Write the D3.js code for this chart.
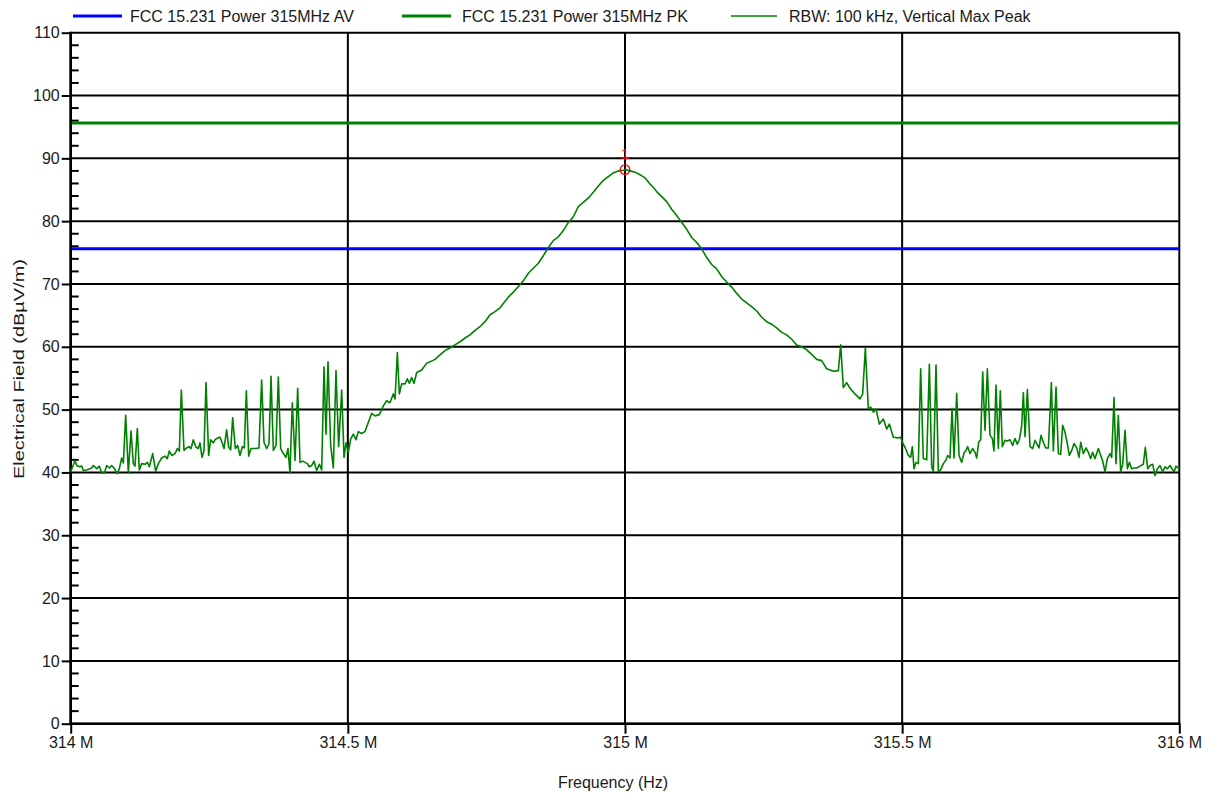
<!DOCTYPE html>
<html>
<head>
<meta charset="utf-8">
<script src="https://cdn.jsdelivr.net/npm/d3@7/dist/d3.min.js"></script>
<style>
  html, body { margin: 0; padding: 0; background: #fff; }
  svg text { font-family: "Liberation Sans", Arial, sans-serif; fill: #1a1a1a; }
</style>
</head>
<body>
<svg id="chart" width="1212" height="793"></svg>
<script>
// Limit lines (dBµV/m)
const limitAV = 75.62;
const limitPK = 95.62;

// Legend entries
const legendLabels = [
  "FCC 15.231 Power 315MHz AV",
  "FCC 15.231 Power 315MHz PK",
  "RBW: 100 kHz, Vertical Max Peak"
];

// Axis ticks
const freqTicksMHz = [314, 314.5, 315, 315.5, 316];
const freqTickLabels = ["314 M", "314.5 M", "315 M", "315.5 M", "316 M"];
const levelTicks = [0, 10, 20, 30, 40, 50, 60, 70, 80, 90, 100, 110];

// Marker 1
const markerMHz = 315.0;
const markerLevel = 88.2;

// Max-peak trace: [frequency MHz, level dBµV/m]
const trace = [
  [314.0000, 40.1], [314.0078, 41.9], [314.0108, 41.1], [314.0156, 40.9], [314.0198, 41.0],
  [314.0228, 40.3], [314.0288, 40.4], [314.0378, 40.7], [314.0408, 41.1], [314.0469, 40.6],
  [314.0517, 41.0], [314.0559, 39.9], [314.0607, 39.9], [314.0649, 41.1], [314.0697, 40.7],
  [314.0739, 41.1], [314.0781, 40.7], [314.0841, 39.8], [314.0877, 40.6], [314.0920, 42.3],
  [314.0950, 41.5], [314.0992, 49.1], [314.1040, 39.9], [314.1088, 46.6], [314.1130, 41.4],
  [314.1160, 41.0], [314.1202, 47.0], [314.1238, 40.4], [314.1280, 41.4], [314.1340, 41.3],
  [314.1382, 41.6], [314.1419, 40.9], [314.1479, 43.0], [314.1533, 40.2], [314.1581, 41.4],
  [314.1641, 42.3], [314.1701, 42.6], [314.1743, 42.2], [314.1779, 43.4], [314.1822, 42.7],
  [314.1882, 43.0], [314.1924, 43.8], [314.1960, 43.4], [314.1996, 53.1], [314.2044, 43.5],
  [314.2092, 43.9], [314.2134, 44.1], [314.2170, 43.8], [314.2212, 45.2], [314.2261, 44.0],
  [314.2303, 43.8], [314.2333, 44.7], [314.2369, 42.4], [314.2405, 43.5], [314.2441, 54.3],
  [314.2489, 42.7], [314.2525, 45.2], [314.2573, 44.7], [314.2603, 45.2], [314.2651, 45.5],
  [314.2694, 45.6], [314.2730, 44.8], [314.2766, 43.8], [314.2814, 46.8], [314.2850, 44.0],
  [314.2886, 43.6], [314.2922, 48.7], [314.2970, 43.8], [314.3012, 44.3], [314.3054, 42.7],
  [314.3096, 44.1], [314.3132, 43.9], [314.3169, 53.0], [314.3211, 42.6], [314.3253, 43.8],
  [314.3325, 43.8], [314.3397, 43.9], [314.3445, 54.7], [314.3487, 44.8], [314.3535, 43.8],
  [314.3578, 44.6], [314.3614, 55.3], [314.3656, 43.5], [314.3704, 44.3], [314.3746, 55.2],
  [314.3788, 43.8], [314.3836, 43.0], [314.3884, 42.4], [314.3920, 43.8], [314.3956, 39.9],
  [314.3998, 51.1], [314.4047, 41.9], [314.4095, 53.4], [314.4137, 41.6], [314.4185, 41.8],
  [314.4227, 41.6], [314.4269, 41.4], [314.4305, 40.9], [314.4347, 41.1], [314.4389, 41.8],
  [314.4437, 40.3], [314.4486, 41.3], [314.4528, 40.4], [314.4570, 56.8], [314.4606, 46.1],
  [314.4642, 57.6], [314.4690, 44.3], [314.4738, 40.7], [314.4786, 56.2], [314.4834, 44.1],
  [314.4889, 53.1], [314.4931, 42.4], [314.4967, 44.7], [314.5009, 43.2], [314.5051, 45.3],
  [314.5099, 46.1], [314.5147, 45.2], [314.5189, 46.5], [314.5249, 46.2], [314.5309, 46.5],
  [314.5370, 48.0], [314.5430, 49.4], [314.5490, 49.0], [314.5568, 49.2], [314.5640, 50.6],
  [314.5700, 51.4], [314.5760, 51.1], [314.5821, 52.5], [314.5851, 51.7], [314.5893, 59.1],
  [314.5929, 52.5], [314.5971, 54.1], [314.6031, 54.1], [314.6073, 54.9], [314.6109, 54.2],
  [314.6151, 55.1], [314.6193, 54.2], [314.6242, 55.9], [314.6332, 56.3], [314.6422, 57.4],
  [314.6482, 57.6], [314.6572, 58.0], [314.6663, 58.7], [314.6753, 59.4], [314.6843, 59.8],
  [314.6933, 60.3], [314.7023, 60.8], [314.7114, 61.4], [314.7204, 61.9], [314.7294, 62.6],
  [314.7384, 63.2], [314.7474, 64.0], [314.7565, 65.1], [314.7655, 65.6], [314.7745, 66.2],
  [314.7805, 66.9], [314.7895, 67.9], [314.7986, 68.7], [314.8076, 69.6], [314.8166, 70.5],
  [314.8256, 71.7], [314.8346, 72.5], [314.8437, 73.3], [314.8527, 74.5], [314.8617, 75.8],
  [314.8707, 76.9], [314.8797, 77.5], [314.8888, 78.5], [314.8978, 79.8], [314.9068, 80.7],
  [314.9158, 82.3], [314.9248, 83.0], [314.9339, 83.7], [314.9429, 84.6], [314.9519, 85.6],
  [314.9609, 86.5], [314.9699, 87.1], [314.9790, 87.7], [314.9880, 88.0], [314.9970, 88.1],
  [315.0000, 88.2], [315.0090, 88.0], [315.0180, 87.8], [315.0271, 87.4], [315.0361, 86.9],
  [315.0451, 85.9], [315.0511, 85.4], [315.0571, 84.7], [315.0662, 83.9], [315.0752, 83.1],
  [315.0842, 81.9], [315.0932, 80.9], [315.1023, 79.8], [315.1113, 78.7], [315.1203, 77.4],
  [315.1293, 76.6], [315.1383, 75.6], [315.1474, 74.2], [315.1564, 73.1], [315.1654, 72.4],
  [315.1744, 71.2], [315.1834, 70.3], [315.1925, 69.5], [315.2015, 68.5], [315.2105, 67.6],
  [315.2195, 67.0], [315.2285, 66.4], [315.2376, 65.7], [315.2466, 64.7], [315.2556, 64.0],
  [315.2646, 63.6], [315.2736, 63.0], [315.2827, 62.3], [315.2917, 61.9], [315.3007, 61.2],
  [315.3097, 60.3], [315.3187, 60.0], [315.3278, 59.5], [315.3368, 58.8], [315.3458, 58.0],
  [315.3548, 57.8], [315.3638, 56.5], [315.3759, 56.1], [315.3849, 56.2], [315.3891, 60.3],
  [315.3939, 53.5], [315.3999, 54.3], [315.4059, 53.4], [315.4149, 52.5], [315.4240, 51.7],
  [315.4288, 52.5], [315.4336, 59.8], [315.4390, 50.1], [315.4432, 50.4], [315.4480, 49.6],
  [315.4528, 50.1], [315.4589, 47.7], [315.4661, 48.5], [315.4721, 46.9], [315.4769, 47.7],
  [315.4841, 45.6], [315.4931, 45.5], [315.4974, 45.6], [315.5009, 44.7], [315.5052, 44.0],
  [315.5112, 42.7], [315.5154, 42.4], [315.5184, 44.1], [315.5214, 40.6], [315.5250, 41.6],
  [315.5292, 41.4], [315.5334, 56.5], [315.5382, 42.2], [315.5443, 42.0], [315.5491, 57.2],
  [315.5533, 40.9], [315.5563, 40.1], [315.5611, 57.1], [315.5653, 40.1], [315.5695, 40.4],
  [315.5743, 41.4], [315.5785, 41.9], [315.5821, 42.7], [315.5863, 42.3], [315.5900, 50.2],
  [315.5936, 42.3], [315.5984, 52.6], [315.6026, 42.7], [315.6074, 41.6], [315.6116, 43.1],
  [315.6152, 43.5], [315.6182, 44.1], [315.6224, 43.0], [315.6272, 43.8], [315.6314, 43.2],
  [315.6345, 42.3], [315.6381, 44.8], [315.6417, 45.2], [315.6453, 56.0], [315.6495, 46.7],
  [315.6537, 56.5], [315.6585, 45.9], [315.6627, 45.4], [315.6657, 43.4], [315.6693, 53.9],
  [315.6735, 43.8], [315.6771, 53.0], [315.6807, 44.1], [315.6856, 45.1], [315.6898, 45.0],
  [315.6946, 45.2], [315.6994, 44.3], [315.7036, 45.4], [315.7078, 44.5], [315.7114, 45.2],
  [315.7157, 47.5], [315.7187, 52.7], [315.7217, 45.7], [315.7259, 53.2], [315.7307, 44.1],
  [315.7355, 43.8], [315.7397, 45.1], [315.7427, 44.6], [315.7469, 43.9], [315.7505, 45.9],
  [315.7547, 44.8], [315.7589, 43.9], [315.7638, 43.9], [315.7692, 54.3], [315.7728, 43.4],
  [315.7776, 53.6], [315.7818, 43.0], [315.7860, 42.9], [315.7896, 47.5], [315.7938, 46.4],
  [315.7980, 44.6], [315.8016, 42.7], [315.8059, 43.5], [315.8101, 44.6], [315.8149, 43.9],
  [315.8191, 42.4], [315.8221, 44.8], [315.8269, 43.0], [315.8317, 43.9], [315.8359, 43.2],
  [315.8401, 42.2], [315.8437, 43.2], [315.8479, 42.2], [315.8540, 43.8], [315.8582, 42.7],
  [315.8618, 41.8], [315.8660, 40.1], [315.8702, 42.2], [315.8750, 43.0], [315.8780, 42.4],
  [315.8822, 51.9], [315.8858, 41.4], [315.8900, 49.1], [315.8942, 40.1], [315.8978, 41.3],
  [315.9021, 46.7], [315.9063, 40.6], [315.9099, 41.6], [315.9141, 40.6], [315.9183, 40.7],
  [315.9231, 40.7], [315.9291, 41.0], [315.9351, 41.3], [315.9387, 44.0], [315.9430, 40.6],
  [315.9472, 41.1], [315.9520, 41.3], [315.9562, 39.5], [315.9604, 40.6], [315.9652, 41.1],
  [315.9700, 40.1], [315.9742, 40.9], [315.9784, 40.6], [315.9832, 41.1], [315.9868, 40.6],
  [315.9905, 40.1], [315.9941, 41.0], [315.9983, 40.7], [316.0000, 40.9]
];

const colorAV = "#0000ff";
const colorPK = "#008000";
const colorTrace = "#008000";

const svg = d3.select("#chart");

// Plot frame
const plotL = 70.7, plotR = 1179.3, plotT = 32.7, plotB = 723.7;

const x = d3.scaleLinear().domain([314e6, 316e6]).range([plotL, plotR]);
const y = d3.scaleLinear().domain([0, 110]).range([plotB, plotT]);

// Horizontal grid at every 10 dBµV/m
svg.append("g")
  .selectAll("line")
  .data(levelTicks)
  .join("line")
  .attr("x1", plotL).attr("x2", plotR)
  .attr("y1", d => y(d)).attr("y2", d => y(d))
  .attr("stroke", "#000").attr("stroke-width", 2);

// Vertical grid at every 0.5 MHz
svg.append("g")
  .selectAll("line")
  .data(freqTicksMHz)
  .join("line")
  .attr("x1", d => x(d * 1e6)).attr("x2", d => x(d * 1e6))
  .attr("y1", plotT).attr("y2", plotB)
  .attr("stroke", "#000").attr("stroke-width", 2);

// Left axis: labels, outer major ticks, inner minor ticks
const yAxis = d3.axisLeft(y)
  .tickValues(levelTicks)
  .tickFormat(d3.format("d"))
  .tickSize(9)
  .tickPadding(2);
const gy = svg.append("g").attr("transform", `translate(${plotL},0)`).call(yAxis);
gy.select(".domain").remove();
gy.selectAll(".tick line").attr("stroke", "#000").attr("stroke-width", 2);
gy.selectAll(".tick text")
  .style("font-size", "16px")
  .style("font-family", "'Liberation Sans', Arial, sans-serif")
  .attr("fill", "#1a1a1a");

const minorLevels = d3.range(0, 111, 2).filter(v => v % 10 !== 0);
svg.append("g")
  .selectAll("line")
  .data(minorLevels)
  .join("line")
  .attr("x1", plotL).attr("x2", plotL + 8)
  .attr("y1", d => y(d)).attr("y2", d => y(d))
  .attr("stroke", "#000").attr("stroke-width", 2);

svg.append("line")
  .attr("x1", plotL).attr("x2", plotL)
  .attr("y1", plotT - 1).attr("y2", plotB + 1)
  .attr("stroke", "#000").attr("stroke-width", 2.6);

// Bottom axis
const xAxis = d3.axisBottom(x)
  .tickValues(freqTicksMHz.map(d => d * 1e6))
  .tickFormat((d, i) => freqTickLabels[i])
  .tickSize(10)
  .tickPadding(3);
const gx = svg.append("g").attr("transform", `translate(0,${plotB})`).call(xAxis);
gx.select(".domain").remove();
gx.selectAll(".tick line").attr("stroke", "#000").attr("stroke-width", 2);
gx.selectAll(".tick text")
  .style("font-size", "16px")
  .style("font-family", "'Liberation Sans', Arial, sans-serif")
  .attr("fill", "#1a1a1a");

svg.append("line")
  .attr("x1", plotL - 1).attr("x2", plotR + 1)
  .attr("y1", plotB).attr("y2", plotB)
  .attr("stroke", "#000").attr("stroke-width", 2.6);

// Limit lines
svg.append("line")
  .attr("x1", x(314e6) + 1).attr("x2", x(316e6))
  .attr("y1", y(limitPK)).attr("y2", y(limitPK))
  .attr("stroke", colorPK).attr("stroke-width", 3);
svg.append("line")
  .attr("x1", x(314e6) + 1).attr("x2", x(316e6))
  .attr("y1", y(limitAV)).attr("y2", y(limitAV))
  .attr("stroke", colorAV).attr("stroke-width", 3);

// Trace
const line = d3.line()
  .x(d => x(d[0] * 1e6))
  .y(d => y(d[1]));
svg.append("path")
  .datum(trace)
  .attr("d", line)
  .attr("fill", "none")
  .attr("stroke", colorTrace)
  .attr("stroke-width", 1.6)
  .attr("stroke-linejoin", "round");

// Marker 1
svg.append("circle")
  .attr("cx", x(markerMHz * 1e6)).attr("cy", y(markerLevel))
  .attr("r", 4.8)
  .attr("fill", "none").attr("stroke", "#ff0000").attr("stroke-width", 1.3);
svg.append("text")
  .attr("x", x(markerMHz * 1e6)).attr("y", y(markerLevel) - 10.5)
  .attr("text-anchor", "middle")
  .style("font-size", "15px")
  .style("fill", "#ff0000")
  .text("1");

// Axis titles
svg.append("text")
  .attr("x", 613).attr("y", 788)
  .attr("text-anchor", "middle")
  .style("font-size", "16px")
  .text("Frequency (Hz)");
svg.append("text")
  .attr("transform", "translate(24,369) rotate(-90)")
  .attr("text-anchor", "middle")
  .attr("textLength", 220)
  .attr("lengthAdjust", "spacingAndGlyphs")
  .style("font-size", "15px")
  .text("Electrical Field (dBµV/m)");

// Legend
const legendItems = [
  { label: legendLabels[0], color: colorAV, width: 3, x0: 73, x1: 122, tx: 130 },
  { label: legendLabels[1], color: colorPK, width: 3, x0: 402, x1: 451, tx: 462 },
  { label: legendLabels[2], color: colorTrace, width: 1.6, x0: 731, x1: 777, tx: 789 }
];
const lg = svg.append("g").selectAll("g").data(legendItems).join("g");
lg.append("line")
  .attr("x1", d => d.x0).attr("x2", d => d.x1)
  .attr("y1", 16).attr("y2", 16)
  .attr("stroke", d => d.color).attr("stroke-width", d => d.width);
lg.append("text")
  .attr("x", d => d.tx).attr("y", 21.5)
  .style("font-size", "16px")
  .text(d => d.label);
</script>
</body>
</html>
